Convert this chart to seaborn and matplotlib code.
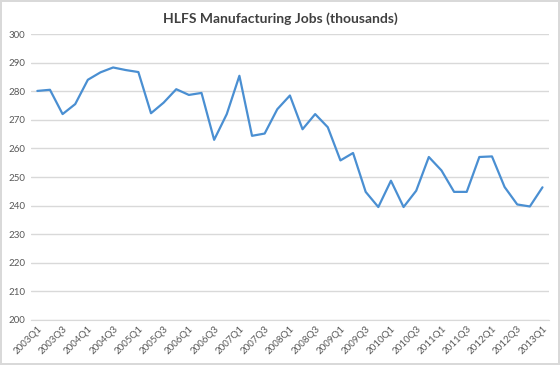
import numpy as np
import pandas as pd
import matplotlib
matplotlib.use("Agg")
import matplotlib.pyplot as plt
import seaborn as sns

# quarterly data 2003Q1 - 2013Q1
quarters = [f"{y}Q{q}" for y in range(2003, 2014) for q in range(1, 5)][:41]
jobs = [280.1, 280.5, 272.0, 275.5,
        284.0, 286.6, 288.3, 287.4,
        286.7, 272.3, 276.0, 280.7,
        278.7, 279.4, 263.0, 272.0,
        285.4, 264.4, 265.2, 273.7,
        278.5, 266.7, 272.0, 267.4,
        255.8, 258.4, 244.8, 239.5,
        248.7, 239.5, 245.2, 257.0,
        252.3, 244.8, 244.8, 257.0,
        257.2, 246.5, 240.4, 239.7,
        246.4]
y_ticks = list(range(200, 301, 10))

df = pd.DataFrame({"idx": range(len(quarters)), "quarter": quarters, "jobs": jobs})

sns.set_style("white")
plt.rcParams['font.family'] = ['Lato', 'DejaVu Sans']

fig = plt.figure(figsize=(5.6, 3.65), dpi=100)
fig.patch.set_edgecolor("#D9D9D9")
fig.patch.set_linewidth(1.5)
ax = fig.add_axes([0.0554, 0.1233, 0.9246, 0.7835])

sns.lineplot(data=df, x="idx", y="jobs", ax=ax, color="#4A8FD2", linewidth=1.6)

ax.set_xlim(-0.5, len(quarters) - 0.5)
ax.set_ylim(200, 300)
ax.set_yticks(y_ticks)
ax.set_yticklabels([str(v) for v in y_ticks], fontsize=7, color="#595959")
ax.yaxis.grid(True, color="#D9D9D9", linewidth=1)
ax.set_axisbelow(True)

ax.set_xticks(df["idx"][::2])
ax.set_xticklabels(df["quarter"][::2], rotation=45, ha="right",
                   rotation_mode="anchor", fontsize=7, color="#595959")
ax.tick_params(axis="both", length=0, pad=4)
ax.tick_params(axis="x", pad=3)

for s in ["top", "right", "left"]:
    ax.spines[s].set_visible(False)
ax.spines["bottom"].set_color("#D9D9D9")

ax.set_xlabel("")
ax.set_ylabel("")
fig.text(0.5, 0.95, "HLFS Manufacturing Jobs (thousands)", ha="center", va="center",
         fontsize=10, fontweight="bold", color="#404040")

fig.savefig("out.png", dpi=100, edgecolor=fig.get_edgecolor())
